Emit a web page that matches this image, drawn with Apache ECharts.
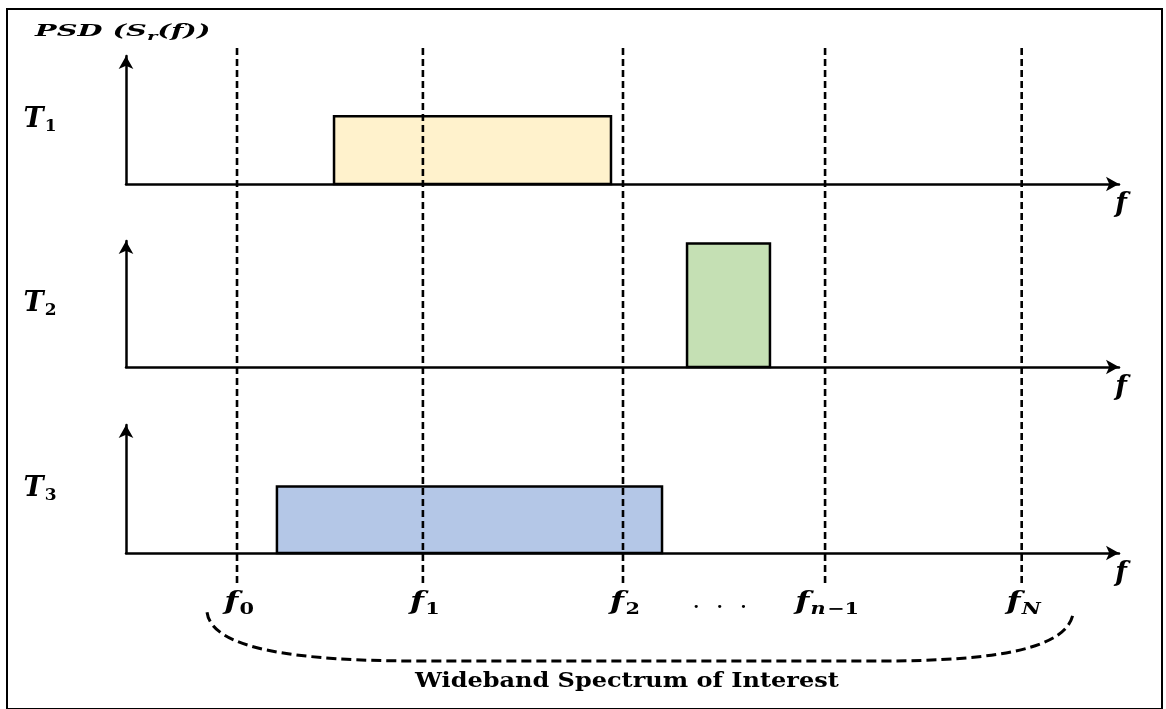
<!DOCTYPE html>
<html><head><meta charset="utf-8">
<script src="https://cdn.jsdelivr.net/npm/echarts@6/dist/echarts.min.js"></script>
<style>html,body{margin:0;padding:0;background:#fff}#c{width:1166px;height:709px}</style>
</head><body><div id="c"></div>
<script>
// ---- data (frequency axis in arbitrary units 0..100, PSD in 0..1) ----
const freqPos = [11.18, 29.9, 50.05, 70.4, 90.2];
const freqSub = ['0', '1', '2', 'n−1', 'N'];
const ellipsisPos = 59.8;
const panelSub = ['1', '2', '3'];
const bandStart = [20.95, 56.5, 15.2];
const bandEnd = [48.84, 64.85, 53.98];
const bandPSD = [0.53, 0.98, 0.52];
const braceStart = 8.16;
const braceEnd = 95.4;
const bandColors = ['#FFF2CC', '#C5E0B4', '#B4C7E7'];

const MATH = '"DejaVu Serif", "Liberation Serif", serif';
const chart = echarts.init(document.getElementById('c'), null, {renderer: 'canvas'});

const panelTops = [56, 241, 425];
const panelHeights = [128, 126, 128];
const L = 126, R = 47;

const grid = [];
const xAxis = [];
const yAxis = [];
const series = [];

panelTops.forEach((t, i) => {
  grid.push({left: L, right: R, top: t, height: panelHeights[i]});
  xAxis.push({
    type: 'value', gridIndex: i, min: 0, max: 100,
    axisLine: {show: true, onZero: false, symbol: ['none', 'arrow'], symbolSize: [11, 13], lineStyle: {color: '#000', width: 2.5}},
    axisTick: {show: false}, axisLabel: {show: false}, splitLine: {show: false},
    name: 'f', nameLocation: 'end', nameGap: 2,
    nameTextStyle: {fontFamily: MATH, fontStyle: 'italic', fontWeight: 'bold', fontSize: 27, color: '#000', align: 'center', verticalAlign: 'top', padding: [7, 0, 0, 0]}
  });
  yAxis.push({
    type: 'value', gridIndex: i, min: 0, max: 1,
    axisLine: {show: true, symbol: ['none', 'arrow'], symbolSize: [11, 13], lineStyle: {color: '#000', width: 2.5}},
    axisTick: {show: false}, axisLabel: {show: false}, splitLine: {show: false},
    name: '{t|T}{s|' + panelSub[i] + '}', nameLocation: 'middle', nameRotate: 0, nameGap: 86,
    nameTextStyle: {align: 'center', rich: {
      t: {fontFamily: MATH, fontStyle: 'italic', fontWeight: 'bold', fontSize: 27, color: '#000', lineHeight: 30},
      s: {fontFamily: MATH, fontWeight: 'bold', fontSize: 17, color: '#000', verticalAlign: 'bottom', lineHeight: 30, padding: [8, 0, 0, 1]}
    }}
  });
  series.push({
    type: 'custom', xAxisIndex: i, yAxisIndex: i, z: 2,
    data: [[bandStart[i], bandEnd[i], bandPSD[i]]],
    renderItem: (params, api) => {
      const p0 = api.coord([api.value(0), api.value(2)]);
      const p1 = api.coord([api.value(1), 0]);
      return {type: 'rect', shape: {x: p0[0], y: p0[1], width: p1[0] - p0[0], height: p1[1] - p0[1]},
        style: {fill: bandColors[i], stroke: '#000', lineWidth: 2.5}};
    }
  });
});

// overlay grid for dashed frequency markers
grid.push({left: L, right: R, top: 48, bottom: 126});
xAxis.push({type: 'value', gridIndex: 3, min: 0, max: 100, show: false});
yAxis.push({type: 'value', gridIndex: 3, min: 0, max: 1, show: false});
series.push({
  type: 'custom', xAxisIndex: 3, yAxisIndex: 3, z: 5,
  data: freqPos.map(f => [f]),
  renderItem: (params, api) => {
    const a = api.coord([api.value(0), 0]);
    const b = api.coord([api.value(0), 1]);
    return {type: 'line', shape: {x1: a[0], y1: a[1], x2: b[0], y2: b[1]},
      style: {stroke: '#000', lineWidth: 2.6, lineDash: [7, 4]}};
  }
});

// label row + brace grid
grid.push({left: L, right: R, top: 585, height: 80});
xAxis.push({type: 'value', gridIndex: 4, min: 0, max: 100, show: false});
yAxis.push({type: 'value', gridIndex: 4, min: 0, max: 1, show: false});
const fRich = {
  f: {fontFamily: MATH, fontStyle: 'italic', fontWeight: 'bold', fontSize: 25, fill: '#000', lineHeight: 30},
  s: {fontFamily: MATH, fontWeight: 'bold', fontSize: 16, fill: '#000', verticalAlign: 'bottom', lineHeight: 30, padding: [4, 0, 0, 1]},
  si: {fontFamily: MATH, fontStyle: 'italic', fontWeight: 'bold', fontSize: 16, fill: '#000', verticalAlign: 'bottom', lineHeight: 30, padding: [4, 0, 0, 1]}
};
series.push({
  type: 'custom', xAxisIndex: 4, yAxisIndex: 4, z: 6,
  data: freqPos.map((f, i) => [f, 0.78, i]),
  renderItem: (params, api) => {
    const p = api.coord([api.value(0), api.value(1)]);
    const s = freqSub[api.value(2)];
    let txt;
    if (s === 'n−1') txt = '{f|f}{si|n}{s|−1}';
    else if (s === 'N') txt = '{f|f}{si|N}';
    else txt = '{f|f}{s|' + s + '}';
    return {type: 'text', x: p[0] + 2, y: p[1], scaleX: 1.3,
      style: {text: txt, rich: fRich, align: 'center', verticalAlign: 'middle', fill: '#000'}};
  }
});
series.push({
  type: 'custom', xAxisIndex: 4, yAxisIndex: 4, z: 6,
  data: [[ellipsisPos, 0.72]],
  renderItem: (params, api) => {
    const p = api.coord([api.value(0), api.value(1)]);
    return {type: 'text', x: p[0], y: p[1],
      style: {text: '·   ·   ·', fontFamily: MATH, fontWeight: 'bold', fontSize: 17, fill: '#000', align: 'center', verticalAlign: 'middle'}};
  }
});
series.push({
  type: 'custom', xAxisIndex: 4, yAxisIndex: 4, z: 5,
  data: [[braceStart, braceEnd]],
  renderItem: (params, api) => {
    const s = api.value(0), e = api.value(1);
    const P = (x, y) => api.coord([x, y]);
    const pts = [
      P(s, 0.66), P(s + 0.5, 0.19), P(s + 9.3, 0.05), P(s + 21.4, 0.05),
      P(e - 19.5, 0.05), P(e - 7.4, 0.05), P(e - 0.5, 0.21), P(e, 0.66)
    ];
    const d = 'M' + pts[0].join(' ') + ' C' + pts[1].join(' ') + ' ' + pts[2].join(' ') + ' ' + pts[3].join(' ') +
      ' L' + pts[4].join(' ') + ' C' + pts[5].join(' ') + ' ' + pts[6].join(' ') + ' ' + pts[7].join(' ');
    return {type: 'path', shape: {pathData: d}, style: {fill: 'none', stroke: '#000', lineWidth: 3, lineDash: [10, 5]}};
  }
});

// frame grid
grid.push({left: 7, top: 9, right: 4, bottom: -10, show: true, borderColor: '#000', borderWidth: 2, backgroundColor: 'transparent'});
xAxis.push({type: 'value', gridIndex: 5, show: false});
yAxis.push({type: 'value', gridIndex: 5, show: false});

const option = {
  backgroundColor: '#fff',
  animation: false,
  graphic: [
    {type: 'text', left: 35, top: 24, scaleX: 1.8, z: 10,
      style: {text: '{a|PSD (S}{s|r}{a|(}{a|f}{a|))}', rich: {
        a: {fontFamily: MATH, fontStyle: 'italic', fontWeight: 'bold', fontSize: 16, fill: '#000', lineHeight: 22},
        s: {fontFamily: MATH, fontStyle: 'italic', fontWeight: 'bold', fontSize: 11, fill: '#000', verticalAlign: 'bottom', lineHeight: 22, padding: [4, 0, 0, 0]}
      }}},
    {type: 'text', left: 415, top: 672, scaleX: 1.2, z: 10,
      style: {text: 'Wideband Spectrum of Interest', fontFamily: '"DejaVu Serif", serif', fontWeight: 'bold', fontSize: 20, fill: '#000'}}
  ],
  grid, xAxis, yAxis, series
};
chart.setOption(option);
</script>
</body></html>
